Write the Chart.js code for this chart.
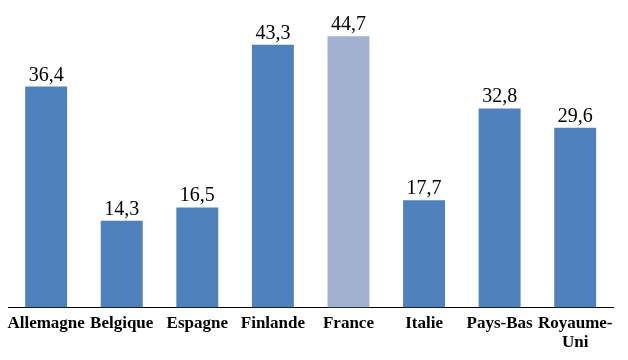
<!DOCTYPE html>
<html><head><meta charset="utf-8">
<script src="https://cdn.jsdelivr.net/npm/chart.js@4.4.0/dist/chart.umd.min.js"></script>
<style>html,body{margin:0;padding:0;background:#fff}#w{width:628px;height:360px}</style>
</head><body><div id="w"><canvas id="c"></canvas></div>
<script>
const categories = ["Allemagne","Belgique","Espagne","Finlande","France","Italie","Pays-Bas",["Royaume-","Uni"]];
const values = [36.4,14.3,16.5,43.3,44.7,17.7,32.8,29.6];
const valueLabels = ["36,4","14,3","16,5","43,3","44,7","17,7","32,8","29,6"];
const barColors = ["#4F81BD","#4F81BD","#4F81BD","#4F81BD","#A0B2CF","#4F81BD","#4F81BD","#4F81BD"];

const labelPlugin = {
  id: 'vlabels',
  afterDatasetsDraw(chart){
    const ctx = chart.ctx;
    const meta = chart.getDatasetMeta(0);
    ctx.save();
    ctx.font = '20px "Liberation Serif", serif';
    ctx.fillStyle = '#000';
    ctx.textAlign = 'center';
    ctx.textBaseline = 'alphabetic';
    meta.data.forEach((el,i)=>{ ctx.fillText(valueLabels[i], el.x, el.y - 6); });
    ctx.restore();
  }
};

new Chart(document.getElementById('c'), {
  type: 'bar',
  data: { labels: categories, datasets: [{ data: values, backgroundColor: barColors, categoryPercentage: 1, barPercentage: 0.555 }] },
  options: {
    responsive: true, maintainAspectRatio: false, animation: false,
    layout: { padding: { left: 7, right: 15, top: 4, bottom: 1 } },
    plugins: { legend: { display: false }, tooltip: { enabled: false } },
    scales: {
      y: { display: false, min: 0, max: 50 },
      x: {
        grid: { display: false, drawTicks: false },
        border: { display: true, color: '#000', width: 1 },
        ticks: { color: '#000', padding: 7, maxRotation: 0, autoSkip: false,
          font: { family: '"Liberation Serif", serif', size: 17, weight: 'bold', lineHeight: 1.1 } }
      }
    }
  },
  plugins: [labelPlugin]
});
</script></body></html>
